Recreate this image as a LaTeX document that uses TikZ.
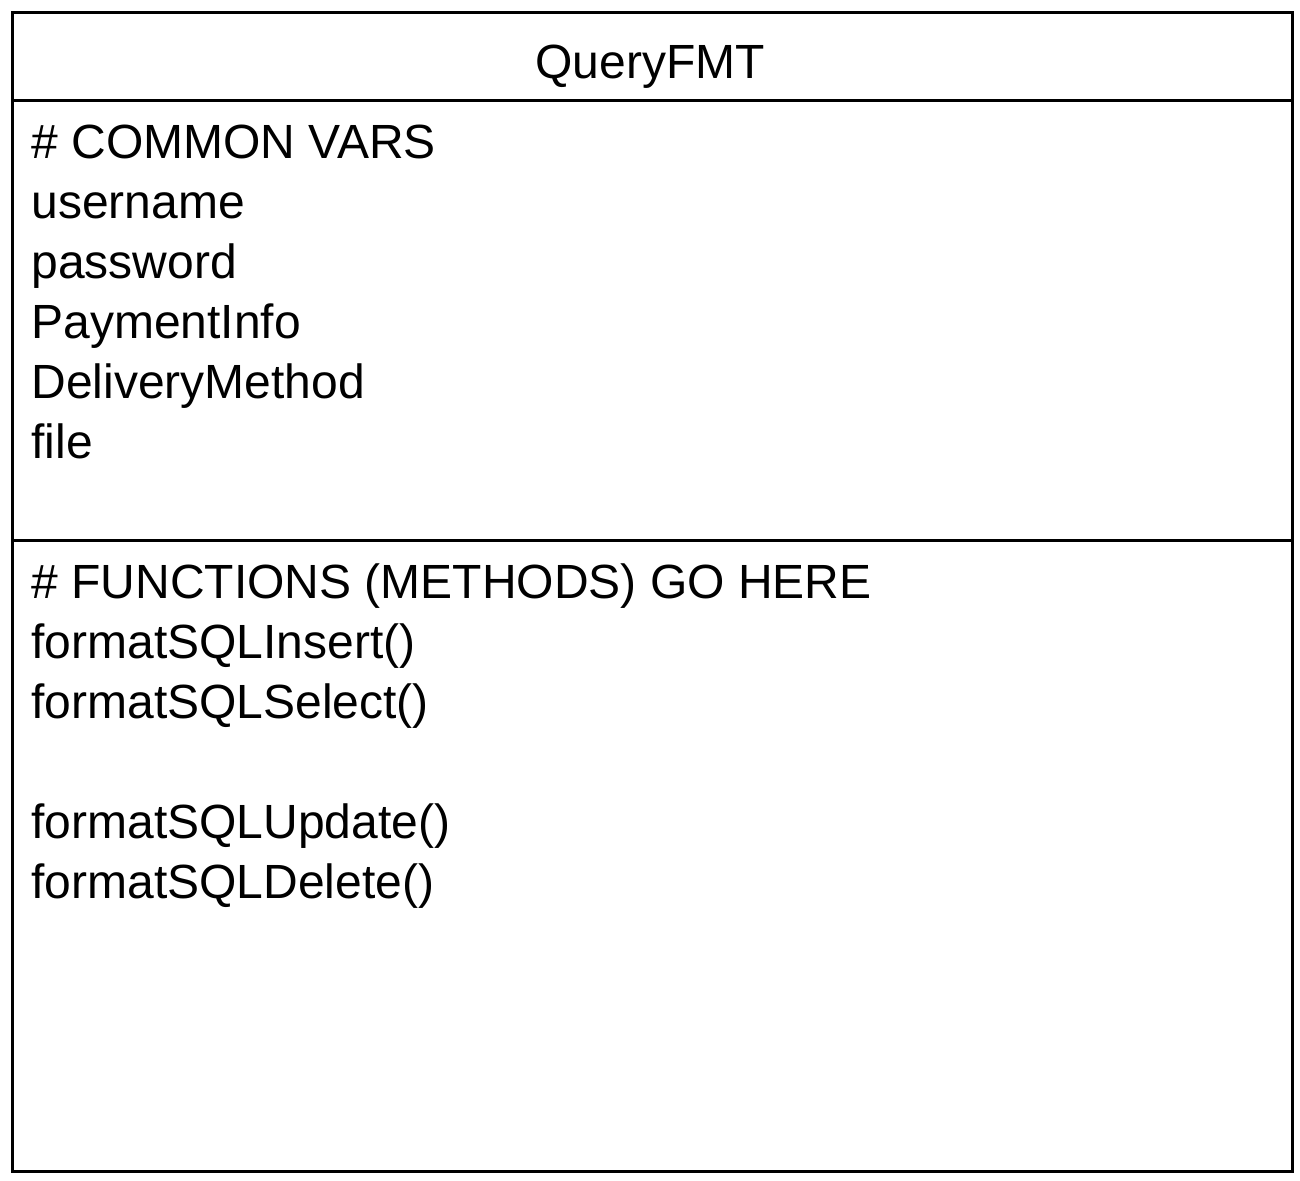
\documentclass[tikz,border=0pt]{standalone}
\usepackage{fontspec}
\setmainfont{Liberation Sans}
\tikzset{
  entry/.style={anchor=base west, inner sep=0pt, font=\fontsize{24}{30}\selectfont},
  heading/.style={anchor=base, inner sep=0pt, font=\fontsize{24}{30}\selectfont}
}
\begin{document}
\begin{tikzpicture}[x=0.5pt, y=-0.5pt, line width=1.5pt]
  \useasboundingbox (0,0) rectangle (1300,1180);
  \draw (12,12) rectangle (1292,1171);
  \draw (12,100) -- (1292,100);
  \draw (12,540) -- (1292,540);

  \node[heading] (title) at (650,78) {QueryFMT};

  \node[entry] (common) at (30,158) {\# COMMON VARS};
  \node[entry] (user) at (30,218) {username};
  \node[entry] (pass) at (30,278) {password};
  \node[entry] (pay) at (30,338) {PaymentInfo};
  \node[entry] (deliv) at (30,398) {DeliveryMethod};
  \node[entry] (file) at (30,458) {file};

  \node[entry] (funcs) at (30,598) {\# FUNCTIONS (METHODS) GO HERE};
  \node[entry] (ins) at (30,658) {formatSQLInsert()};
  \node[entry] (sel) at (30,718) {formatSQLSelect()};
  \node[entry] (upd) at (30,838) {formatSQLUpdate()};
  \node[entry] (del) at (30,898) {formatSQLDelete()};
\end{tikzpicture}
\end{document}
